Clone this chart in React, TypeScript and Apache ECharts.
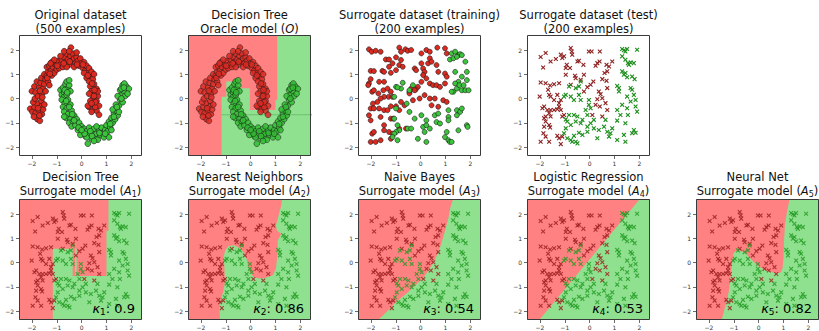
import React, { useEffect, useRef } from "react";
import * as echarts from "echarts";

// ---------------- data ----------------
const xTicks = [-2, -1, 0, 1, 2];
const yTicks = [-2, -1, 0, 1, 2];

// original dataset (two moons), class red / class green
const moonRed: number[][] = [
  [-2.07,-0.42],[-1.98,-0.55],[-1.9,-0.35],[-1.85,-0.6],[-1.78,-0.85],[-1.68,-0.92],[-1.72,-0.5],[-1.65,-0.3],[-1.8,-0.2],[-1.95,-0.15],[-1.6,-0.65],[-1.55,-0.45],[-1.7,-0.7],[-1.62,-0.1],[-1.5,-0.25],[-1.88,0.0],
  [-2.0,0.3],[-1.85,0.25],[-1.75,0.1],[-1.6,0.2],[-1.9,0.5],[-1.7,0.45],[-1.55,0.4],[-1.45,0.3],[-1.8,0.7],[-1.65,0.65],[-1.5,0.6],[-1.62,0.85],[-1.45,0.8],[-1.35,0.7],[-1.3,0.55],[-1.5,1.0],[-1.4,0.95],
  [-1.35,1.1],[-1.25,1.2],[-1.2,0.95],[-1.1,1.05],[-1.4,1.3],[-1.3,1.35],[-1.15,1.3],[-1.05,1.4],[-1.0,1.2],[-0.95,1.55],[-1.2,1.5],[-0.85,1.4],[-0.9,1.25],[-1.1,1.6],[-0.8,1.6],[-0.75,1.3],
  [-0.7,1.7],[-0.65,1.5],[-0.6,1.85],[-0.55,1.6],[-0.5,1.4],[-0.45,1.75],[-0.43,2.1],[-0.4,1.55],[-0.35,1.85],[-0.3,1.65],[-0.25,1.45],[-0.2,1.7],[-0.15,1.55],[-0.1,1.35],[-0.05,1.65],[0.0,1.45],[-0.6,1.3],[-0.3,1.3],[-0.7,1.95],[-0.5,1.95],
  [0.05,1.25],[0.1,1.5],[0.15,1.15],[0.2,1.35],[0.25,1.05],[0.3,1.25],[0.1,1.05],[0.35,0.9],[0.4,1.1],[0.2,0.85],[0.45,0.8],[0.3,0.7],[0.5,1.0],
  [0.35,0.5],[0.5,0.6],[0.6,0.4],[0.4,0.3],[0.55,0.2],[0.65,0.1],[0.3,0.2],[0.45,0.0],[0.6,-0.1],[0.35,-0.1],[0.5,-0.25],[0.7,-0.3],[0.3,-0.35],[0.45,-0.45],[0.6,-0.5],[0.25,-0.3],[0.7,-0.67],[0.55,-0.35],[0.4,-0.55],[0.65,0.3],
  [-1.75,-0.4],[-1.58,0.05],[-1.68,0.32],[-1.38,0.85],[-1.28,1.02],[-0.98,1.35],[-0.72,1.45],[-0.48,1.52],[-0.18,1.4],[0.05,1.4],[0.25,0.95],[0.42,0.62],[0.52,0.35],[0.5,0.1],[0.55,-0.15],[0.4,-0.2],[-0.85,1.75],[-0.2,1.9],[-1.25,1.45],[-1.92,-0.75],
];
const moonGreen: number[][] = [
  [-0.85,0.35],[-0.8,0.15],[-0.75,0.45],[-0.7,0.25],[-0.65,0.6],[-0.6,0.7],[-0.55,0.4],[-0.5,0.55],[-0.72,0.05],[-0.6,0.15],[-0.45,0.3],[-0.8,-0.05],[-0.55,-0.05],[-0.68,-0.2],[-0.5,0.75],
  [-0.75,-0.35],[-0.6,-0.4],[-0.45,-0.25],[-0.7,-0.55],[-0.55,-0.65],[-0.4,-0.5],[-0.62,-0.8],[-0.45,-0.85],[-0.3,-0.7],[-0.5,-1.0],[-0.35,-0.95],[-0.2,-0.85],[-0.4,-1.15],[-0.25,-1.1],[-0.1,-1.0],
  [-0.15,-1.3],[0.0,-1.15],[0.05,-1.4],[0.1,-1.25],[0.15,-1.55],[0.2,-1.35],[0.25,-1.86],[0.3,-1.2],[0.3,-1.5],[0.4,-1.65],[0.45,-1.4],[0.5,-1.25],[0.55,-1.55],[0.6,-1.45],[0.65,-1.7],[0.7,-1.3],[0.75,-1.5],[0.8,-1.2],[0.85,-1.45],[0.9,-1.6],[0.95,-1.3],[0.35,-1.35],[0.6,-1.15],[-0.05,-1.5],[0.2,-1.6],
  [1.0,-1.1],[1.05,-1.35],[1.1,-0.95],[1.15,-1.2],[1.2,-0.8],[1.25,-1.0],[1.3,-0.6],[1.35,-0.85],[1.4,-0.5],[1.1,-1.6],[1.45,-0.7],[1.5,-0.3],[1.25,-0.45],[1.38,-0.25],
  [1.55,-0.05],[1.6,0.15],[1.45,0.1],[1.65,-0.15],[1.7,0.3],[1.55,0.35],[1.75,0.1],[1.8,0.5],[1.65,0.55],[1.72,0.62],[1.9,0.4],[1.6,0.4],[1.5,-0.55],[1.85,0.2],
  [-0.68,0.35],[-0.58,0.25],[-0.62,-0.1],[-0.5,-0.35],[-0.38,-0.65],[-0.3,-0.9],[-0.12,-1.2],[0.12,-1.45],[0.42,-1.55],[0.72,-1.42],[0.95,-1.45],[1.15,-1.05],[1.3,-0.75],[1.42,-0.35],[1.6,0.0],[1.7,0.45],[0.5,-1.75],[0.0,-1.3],[1.2,-1.3],[-0.7,-0.75],
];

// surrogate training set
const trainRed: number[][] = [
  [-2.08,2.03],[-1.97,1.93],[-1.81,1.97],[-1.61,1.93],[-0.86,2.1],[-0.79,1.93],[-0.61,2.03],[-0.52,1.97],[-0.38,2.0],[0.03,1.86],[0.23,2.0],[0.37,1.93],[0.67,2.1],[0.98,2.07],[1.05,1.86],
  [0.37,1.66],[0.3,1.45],[0.44,1.52],[0.03,1.45],[0.1,1.24],[0.16,1.1],[-1.4,1.61],[-1.27,1.61],[-0.99,1.7],[-0.79,1.59],[-1.13,1.45],[-0.86,1.38],[-1.54,1.14],[-1.47,1.1],[-1.27,1.31],
  [-2.01,1.14],[-1.88,1.13],[-0.99,1.17],[-1.2,1.06],[-0.72,1.31],[-0.24,1.24],[-0.18,1.17],[0.64,1.38],[0.71,1.1],[0.98,1.03],[1.05,0.9],[0.1,0.97],[0.23,0.83],[0.03,0.69],[-0.11,0.48],
  [-0.2,0.37],[-0.38,0.41],[-0.45,0.28],[0.37,0.62],[0.5,0.55],[0.64,0.55],[0.78,0.48],[0.98,0.62],[-2.01,0.8],[-1.67,0.69],[-1.47,0.69],[-2.08,0.62],[-2.11,0.55],[-1.95,0.28],[-1.88,0.34],
  [-1.7,0.21],[-1.5,0.34],[-1.33,0.41],[-1.2,0.28],[-1.29,0.07],[-1.13,0.07],[-1.47,0.07],[-1.61,0.0],[-1.92,-0.21],[-1.74,-0.14],[-2.01,-0.41],[-1.88,-0.41],[-1.67,-0.41],[-1.47,-0.48],[-1.33,-0.48],
  [-1.2,-0.32],[-0.99,-0.32],[-0.86,-0.48],[-0.65,-0.28],[-0.79,-0.14],[-0.31,-0.07],[-0.04,0.0],[0.16,0.14],[0.37,0.0],[0.57,0.0],[0.91,-0.07],[1.05,-0.14],[0.44,-0.28],[0.71,-0.34],[-2.08,-0.69],
  [-2.01,-0.9],[-1.61,-0.76],[-1.2,-0.83],[-1.1,-0.83],[-1.47,-1.1],[-1.47,-1.31],[-1.95,-1.45],[-1.88,-1.38],[-1.27,-1.38],[-1.13,-1.45],[-0.86,-1.24],[-2.01,-1.79],[-1.81,-1.79],[-1.61,-1.72],[-1.2,-1.66],
  [-0.59,-1.24],[-0.45,0.21],[-0.24,0.34],
];
const trainGreen: number[][] = [
  [1.25,1.86],[1.39,1.93],[1.52,1.79],[1.59,1.83],[1.18,1.61],[1.32,1.66],[1.46,1.72],[1.66,1.79],[1.8,1.52],[1.39,1.1],[1.66,0.9],[1.86,1.1],[1.86,0.76],[1.52,0.69],[1.39,0.62],
  [1.46,0.41],[1.66,0.34],[1.8,0.34],[1.93,0.34],[1.32,0.28],[1.25,0.28],[1.56,0.55],[1.73,0.55],[1.12,-0.48],[1.46,-0.48],[1.59,-0.55],[1.66,-0.41],[1.46,-0.69],[1.12,-0.76],[1.12,-0.9],
  [1.05,-1.38],[1.52,-1.31],[1.86,-1.1],[1.89,-1.17],[0.98,-1.59],[1.12,-1.72],[1.18,-1.79],[1.25,-1.79],[0.03,-0.69],[-0.24,-0.83],[-0.45,-0.55],[-0.56,-0.21],[-0.99,-0.41],[-1.06,-0.83],[-0.93,-1.1],
  [-0.52,-1.24],[-0.38,-1.24],[0.1,-1.17],[0.23,-1.1],[0.37,-1.24],[0.23,-0.9],[0.57,-0.69],[0.71,-0.62],[0.64,-0.97],[0.78,-1.03],[-0.86,-1.31],[-0.99,-1.38],[-1.06,-1.45],[-1.13,-1.59],[-0.93,-1.72],
  [-0.11,-1.66],[0.23,-1.79],[0.16,-1.38],[-0.79,0.41],[-0.45,0.34],[-0.99,0.48],[-0.31,0.55],[-1.06,0.07],[-0.72,0.65],[-0.93,0.46],
];

// surrogate test set (also overlaid on every surrogate model panel)
const testRed: number[][] = [
  [-1.97,1.71],[-1.77,1.88],[-1.87,1.28],[-1.57,1.53],[-1.36,1.63],[-1.16,1.81],[-1.1,1.67],[-1.03,1.74],[-0.76,2.08],[-0.72,1.94],[-0.7,1.81],[-0.92,1.39],[-0.96,1.26],[-0.79,1.26],[-0.49,1.53],
  [-0.43,1.56],[-0.25,1.39],[-0.23,0.98],[-0.03,1.94],[0.08,1.94],[0.41,1.94],[0.31,1.46],[0.4,1.53],[0.24,1.35],[0.68,1.39],[0.78,1.32],[0.91,1.53],[0.71,1.12],[0.6,1.05],[0.51,0.8],
  [0.68,0.73],[0.71,0.43],[0.15,0.7],[0.04,0.57],[-0.09,0.47],[-0.23,0.29],[0.37,0.29],[0.44,0.18],[0.51,0.01],[-1.97,0.66],[-1.77,0.63],[-1.59,0.54],[-1.43,0.59],[-1.23,0.63],[-1.67,0.36],
  [-1.63,0.15],[-1.57,0.08],[-1.3,0.15],[-1.43,-0.06],[-1.16,-0.06],[-1.23,-0.19],[-1.23,-0.33],[-1.16,-0.47],[-1.83,-0.33],[-1.9,-0.4],[-1.7,-0.47],[-1.57,-0.47],[-1.43,-0.47],[-1.3,-0.44],[-1.63,-0.61],
  [-1.77,-0.74],[-1.83,-0.81],[-1.77,-0.95],[-1.57,-0.74],[-1.83,-1.16],[-1.63,-1.09],[-1.59,-1.19],[-1.86,-1.43],[-1.77,-1.57],[-1.97,-1.78],[-1.63,-1.78],[-1.3,-1.54],[-1.23,-1.64],[-1.1,-1.57],[-1.16,-1.88],
  [-1.1,-0.74],[-1.03,-0.68],[0.31,-0.03],[0.64,-0.19],[0.24,-0.26],[0.71,-0.47],[0.11,-0.68],[0.51,-0.74],[0.41,-0.33],[-0.59,0.94],[-0.56,0.84],[-0.76,0.57],[-0.36,0.77],[-2.01,0.08],[-0.96,0.98],
];
const testGreen: number[][] = [
  [1.31,2.04],[1.38,1.99],[1.44,1.94],[1.51,2.04],[1.91,2.01],[1.31,1.74],[1.44,1.6],[1.54,1.46],[1.65,1.49],[1.78,1.46],[1.58,1.39],[1.31,1.12],[1.38,0.98],[1.44,1.05],[1.51,0.88],
  [1.71,0.91],[1.81,0.8],[1.11,0.52],[1.18,0.43],[1.18,0.29],[1.65,0.43],[1.71,0.36],[1.78,0.15],[1.85,-0.06],[1.51,0.08],[1.65,-0.12],[1.31,-0.26],[1.51,-0.4],[1.85,-0.33],[1.11,-0.47],
  [1.24,-0.68],[1.54,-0.68],[1.11,-0.91],[1.44,-1.02],[1.91,-0.54],[1.78,-1.3],[1.71,-1.43],[1.85,-1.41],[1.38,-1.5],[0.91,-1.23],[0.71,-1.37],[0.84,-1.43],[0.78,-1.57],[0.58,-1.16],[0.37,-1.3],
  [0.17,-1.23],[-0.09,-1.37],[-0.29,-1.5],[-0.43,-1.41],[-0.63,-1.54],[-0.76,-1.71],[-0.7,-1.78],[-0.56,-1.78],[-0.49,-1.85],[-0.9,-1.64],[-1.03,-1.43],[-0.96,-1.23],[-0.76,-1.09],[-0.9,-0.95],[-0.56,-0.95],
  [-0.36,-1.02],[-0.09,-1.16],[0.04,-1.02],[-0.29,-0.88],[0.17,-0.88],[-0.49,-0.74],[-0.63,-0.68],[-0.83,-0.68],[-0.96,-0.86],[0.04,-0.4],[-0.03,-0.26],[-0.03,-0.06],[-0.16,-0.47],[-0.09,-0.68],[-0.36,-0.06],
  [-0.43,0.15],[-0.63,-0.06],[-0.76,0.08],[-0.96,0.15],[-1.03,0.08],[-0.83,0.5],[-0.56,0.43],[-0.43,0.5],[-0.36,0.7],[0.31,-1.64],[1.11,-1.71],[1.44,-1.78],[0.64,-0.88],
];

// decision regions: red-class region polygons (everything else is green)
const fullDomain: number[][] = [[-3,-3],[3,-3],[3,3],[-3,3]];
const oracleRed: number[][] = [
  [-3,3],[1.07,3],[1.07,-0.05],[1.0,-0.05],[1.0,-0.47],[-0.03,-0.47],[-0.03,0.42],[-0.4,0.42],[-0.4,0.7],
  [-0.98,0.7],[-0.98,0.07],[-1.17,0.07],[-1.17,-3],[-3,-3],
];
const oracleSplit: number[][] = [[-1.17,-0.67],[2.6,-0.67]];
const a1Red: number[][] = [
  [-3,3],[1.08,3],[1.08,1.3],[1.0,1.3],[1.0,-0.56],[-0.2,-0.56],[-0.2,0.57],[-0.26,0.57],[-0.26,-0.56],
  [-0.36,-0.56],[-0.36,0.57],[-1.16,0.57],[-1.16,-3],[-3,-3],
];
const a2Red: number[][] = [
  [-3,3],[1.28,3],[1.26,2.58],[1.23,2.35],[1.16,2.08],[1.09,1.8],[1.02,1.53],[1.06,1.32],[1.23,1.19],[1.16,1.05],
  [1.09,0.91],[1.09,0.57],[1.06,0.16],[1.02,-0.25],[0.89,-0.52],[0.61,-0.63],[0.34,-0.66],[0.11,-0.59],[-0.03,-0.38],
  [-0.11,-0.11],[-0.16,0.16],[-0.27,0.41],[-0.44,0.6],[-0.68,0.71],[-0.89,0.68],[-1.02,0.51],[-1.09,0.23],[-1.06,-0.11],
  [-1.04,-0.52],[-1.05,-0.93],[-1.12,-1.27],[-1.2,-1.54],[-1.26,-1.88],[-1.23,-2.38],[-1.22,-3],[-3,-3],
];
const a3Red: number[][] = [
  [-3,3],[1.38,3],[1.31,2.62],[1.2,2.28],[1.11,1.8],[0.97,1.26],[0.81,0.71],[0.61,0.19],[0.37,-0.25],[0.11,-0.63],
  [-0.23,-0.96],[-0.56,-1.27],[-0.96,-1.61],[-1.36,-2.02],[-1.76,-2.43],[-2.3,-3],[-3,-3],
];
const a4Red: number[][] = [[-3,3],[2.33,3],[-2.54,-3],[-3,-3]];
const a5Red: number[][] = [
  [-3,3],[1.28,3],[1.25,2.62],[1.14,2.08],[1.06,1.53],[1.02,0.85],[1.0,0.16],[0.96,-0.25],[0.88,-0.41],[0.71,-0.44],
  [0.31,-0.33],[-0.03,-0.14],[-0.3,0.14],[-0.53,0.38],[-0.74,0.49],[-0.9,0.5],[-1.01,0.37],[-1.06,0.03],[-1.12,-0.52],
  [-1.2,-1.2],[-1.33,-1.75],[-1.49,-2.38],[-1.55,-3],[-3,-3],
];
const surrogateRegions = [a1Red, a2Red, a3Red, a4Red, a5Red];
const kappas = [0.9, 0.86, 0.54, 0.53, 0.82];

const titleTop = [
  "Original dataset", "Decision Tree", "Surrogate dataset (training)", "Surrogate dataset (test)",
  "Decision Tree", "Nearest Neighbors", "Naive Bayes", "Logistic Regression", "Neural Net",
];
const titleBottom = [
  "(500 examples)", "Oracle model ({i|O})", "(200 examples)", "(200 examples)",
  "Surrogate model ({i|A}{s|1})", "Surrogate model ({i|A}{s|2})", "Surrogate model ({i|A}{s|3})",
  "Surrogate model ({i|A}{s|4})", "Surrogate model ({i|A}{s|5})",
];

// ---------------- layout / style ----------------
const FONT = "DejaVu Sans, sans-serif";
const X_MIN = -2.52, X_MAX = 2.43, Y_MIN = -2.37, Y_MAX = 2.62;
const W = 123, H = 121;
const LEFTS = [19, 188, 358, 527, 696];
const TOPS = [35, 199];
const PANELS: number[][] = [[0,0],[0,1],[0,2],[0,3],[1,0],[1,1],[1,2],[1,3],[1,4]];
const REGION_RED = "#ff8181";
const REGION_GREEN = "#8fe08f";
const X_SYMBOL = "path://M0,1.7L1.7,0L5,3.3L8.3,0L10,1.7L6.7,5L10,8.3L8.3,10L5,6.7L1.7,10L0,8.3L3.3,5Z";

const fmt = (v: number) => (v < 0 ? "\u2212" + Math.abs(v) : String(v));

function regionSeries(i: number, poly: number[][], color: string, z: number) {
  return {
    type: "custom",
    xAxisIndex: i,
    yAxisIndex: i,
    clip: true,
    silent: true,
    z,
    data: [[0, 0]],
    renderItem: (_p: any, api: any) => ({
      type: "polygon",
      shape: { points: poly.map((p) => api.coord(p)) },
      style: { fill: color, stroke: null },
    }),
  };
}

function circles(i: number, data: number[][], color: string, opacity = 1, size = 6) {
  return {
    type: "scatter",
    xAxisIndex: i,
    yAxisIndex: i,
    data,
    symbol: "circle",
    symbolSize: size,
    silent: true,
    z: 5,
    itemStyle: { color, borderColor: "#1a1a1a", borderWidth: 0.6, opacity },
  };
}

function crosses(i: number, data: number[][], color: string, opacity = 1) {
  return {
    type: "scatter",
    xAxisIndex: i,
    yAxisIndex: i,
    data,
    symbol: X_SYMBOL,
    symbolSize: 4.6,
    silent: true,
    z: 5,
    itemStyle: { color, opacity },
  };
}

export default function App() {
  const ref = useRef<HTMLDivElement>(null);
  useEffect(() => {
    if (!ref.current) return;
    const chart = echarts.init(ref.current, undefined, { renderer: "svg" });

    const grid = PANELS.map(([r, c]) => ({ left: LEFTS[c], top: TOPS[r], width: W, height: H, containLabel: false }));
    const xAxis = PANELS.map((_, i) => ({
      type: "value", gridIndex: i, min: X_MIN, max: X_MAX,
      axisLine: { show: false, onZero: false },
      splitLine: { show: false },
      axisTick: { show: true, length: 3, customValues: xTicks, lineStyle: { color: "#444", width: 0.8 } },
      axisLabel: { customValues: xTicks, fontSize: 6, color: "#333", margin: 4, fontFamily: FONT, formatter: fmt },
    }));
    const yAxis = PANELS.map((_, i) => ({
      type: "value", gridIndex: i, min: Y_MIN, max: Y_MAX,
      axisLine: { show: false, onZero: false },
      splitLine: { show: false },
      axisTick: { show: true, length: 3, customValues: yTicks, lineStyle: { color: "#444", width: 0.8 } },
      axisLabel: { customValues: yTicks, fontSize: 6, color: "#333", margin: 5, fontFamily: FONT, formatter: fmt },
    }));

    const series: any[] = [];
    // panel 0: original dataset
    series.push(circles(0, moonRed, "#dc2a20", 1, 5.8), circles(0, moonGreen, "#3cc43c", 1, 5.8));
    // panel 1: oracle
    series.push(regionSeries(1, fullDomain, REGION_GREEN, 1), regionSeries(1, oracleRed, REGION_RED, 2));
    series.push({
      type: "line", xAxisIndex: 1, yAxisIndex: 1, data: oracleSplit, symbol: "none", silent: true, z: 3,
      lineStyle: { color: "#6cc06c", width: 1 },
    });
    series.push(circles(1, moonRed, "#d92a22", 0.85, 5.8), circles(1, moonGreen, "#34bb34", 0.85, 5.8));
    // panel 2: training
    series.push(circles(2, trainRed, "#dc2a20", 1, 5), circles(2, trainGreen, "#3cc43c", 1, 5));
    // panel 3: test
    series.push(crosses(3, testRed, "#8e2222"), crosses(3, testGreen, "#1c8e1c"));
    // panels 4-8: surrogate models
    surrogateRegions.forEach((poly, k) => {
      const i = 4 + k;
      series.push(regionSeries(i, fullDomain, REGION_GREEN, 1), regionSeries(i, poly, REGION_RED, 2));
      series.push(crosses(i, testRed, "#9a1c1c", 0.8), crosses(i, testGreen, "#1f9a1f", 0.8));
    });

    const graphic: any[] = [];
    PANELS.forEach(([r, c], i) => {
      const L = LEFTS[c], T = TOPS[r];
      graphic.push({
        type: "rect", z: 100, silent: true,
        shape: { x: L + 0.5, y: T + 0.5, width: W - 1, height: H - 1 },
        style: { fill: "none", stroke: "#3a3a3a", lineWidth: 1 },
      });
      const cx = L + W / 2;
      const y1 = r === 0 ? 14.5 : 177;
      const y2 = r === 0 ? 28.5 : 191;
      graphic.push({
        type: "text", z: 100, silent: true, x: cx, y: y1,
        style: {
          text: titleTop[i], fontFamily: FONT, fontSize: 11.5, fill: "#111",
          align: "center", textAlign: "center", verticalAlign: "middle", textVerticalAlign: "middle",
        },
      });
      graphic.push({
        type: "text", z: 100, silent: true, x: cx, y: y2,
        style: {
          text: titleBottom[i], fontFamily: FONT, fontSize: 11.5, fill: "#111", lineHeight: 14,
          align: "center", textAlign: "center", verticalAlign: "middle", textVerticalAlign: "middle",
          rich: {
            i: { fontFamily: FONT, fontSize: 11.5, fontStyle: "italic", lineHeight: 14, fill: "#111" },
            s: { fontFamily: FONT, fontSize: 8, lineHeight: 5, verticalAlign: "bottom", fill: "#111" },
          },
        },
      });
    });
    kappas.forEach((kv, k) => {
      const L = LEFTS[k];
      graphic.push({
        type: "text", z: 100, silent: true, x: L + 116, y: 308.5,
        style: {
          text: "{k|\u03ba}{s|" + (k + 1) + "}: " + String(kv),
          fontFamily: FONT, fontSize: 13, fill: "#000", lineHeight: 16,
          align: "right", textAlign: "right", verticalAlign: "middle", textVerticalAlign: "middle",
          rich: {
            k: { fontFamily: FONT, fontSize: 13, fontStyle: "italic", lineHeight: 16, fill: "#000" },
            s: { fontFamily: FONT, fontSize: 9, lineHeight: 6, verticalAlign: "bottom", fill: "#000" },
          },
        },
      });
    });

    chart.setOption({
      animation: false,
      backgroundColor: "#ffffff",
      grid, xAxis, yAxis, series, graphic,
    });
    return () => chart.dispose();
  }, []);
  return <div ref={ref} style={{ position: "absolute", left: 0, top: 0, width: 819, height: 331 }} />;
}
